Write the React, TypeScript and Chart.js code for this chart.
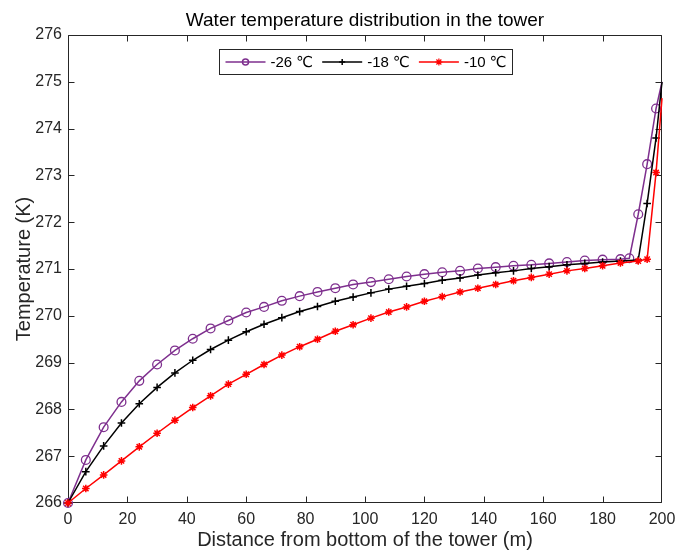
import { useEffect, useRef } from "react";
import { Chart, registerables } from "chart.js";

Chart.register(...registerables);

const titleText = "Water temperature distribution in the tower";
const xAxisLabel = "Distance from bottom of the tower (m)";
const yAxisLabel = "Temperature (K)";
const seriesNames = ["-26 ℃", "-18 ℃", "-10 ℃"];
const seriesColors = ["#7E2F8E", "#000000", "#FF0000"];
const seriesMarkers = ["circle", "cross", "star"];

const xTicks = [0, 20, 40, 60, 80, 100, 120, 140, 160, 180, 200];
const yTicks = [266, 267, 268, 269, 270, 271, 272, 273, 274, 275, 276];

const xPurple = [0, 6, 12, 18, 24, 30, 36, 42, 48, 54, 60, 66, 72, 78, 84, 90, 96, 102, 108, 114, 120, 126, 132, 138, 144, 150, 156, 162, 168, 174, 180, 186, 189, 192, 195, 198, 200];
const yPurple = [266.0, 266.92, 267.62, 268.16, 268.61, 268.96, 269.26, 269.51, 269.73, 269.9, 270.07, 270.19, 270.32, 270.42, 270.51, 270.59, 270.67, 270.72, 270.78, 270.84, 270.89, 270.93, 270.96, 271.01, 271.04, 271.07, 271.09, 271.12, 271.15, 271.18, 271.2, 271.21, 271.23, 272.17, 273.24, 274.43, 275.0];

const xBlack = [0, 6, 12, 18, 24, 30, 36, 42, 48, 54, 60, 66, 72, 78, 84, 90, 96, 102, 108, 114, 120, 126, 132, 138, 144, 150, 156, 162, 168, 174, 180, 186, 192, 195, 198, 200];
const yBlack = [266.0, 266.67, 267.22, 267.71, 268.12, 268.47, 268.78, 269.05, 269.28, 269.48, 269.66, 269.82, 269.96, 270.09, 270.2, 270.31, 270.4, 270.49, 270.57, 270.63, 270.69, 270.76, 270.81, 270.87, 270.92, 270.96, 271.01, 271.05, 271.09, 271.12, 271.15, 271.17, 271.19, 272.4, 273.8, 275.0];

const xRed = [0, 6, 12, 18, 24, 30, 36, 42, 48, 54, 60, 66, 72, 78, 84, 90, 96, 102, 108, 114, 120, 126, 132, 138, 144, 150, 156, 162, 168, 174, 180, 186, 192, 195, 198, 200];
const yRed = [266.0, 266.31, 266.6, 266.9, 267.2, 267.49, 267.77, 268.04, 268.29, 268.54, 268.75, 268.96, 269.16, 269.34, 269.5, 269.67, 269.81, 269.95, 270.08, 270.19, 270.31, 270.41, 270.51, 270.59, 270.67, 270.75, 270.82, 270.89, 270.96, 271.01, 271.07, 271.13, 271.17, 271.21, 273.06, 274.65];

const FONT = "'Liberation Sans', Arial, 'DejaVu Sans', sans-serif";
const AXIS_COLOR = "#262626";

function drawMarker(ctx: CanvasRenderingContext2D, style: string, x: number, y: number, r: number, color: string, lw: number) {
  ctx.save();
  ctx.strokeStyle = color;
  ctx.lineWidth = lw;
  ctx.beginPath();
  if (style === "circle") {
    ctx.arc(x, y, r, 0, Math.PI * 2);
  } else if (style === "cross") {
    ctx.moveTo(x - r, y); ctx.lineTo(x + r, y);
    ctx.moveTo(x, y - r); ctx.lineTo(x, y + r);
  } else {
    ctx.moveTo(x - r, y); ctx.lineTo(x + r, y);
    ctx.moveTo(x, y - r); ctx.lineTo(x, y + r);
    const d = r * Math.SQRT1_2;
    ctx.moveTo(x - d, y - d); ctx.lineTo(x + d, y + d);
    ctx.moveTo(x - d, y + d); ctx.lineTo(x + d, y - d);
  }
  ctx.stroke();
  ctx.restore();
}

const framePlugin = {
  id: "matlabFrame",
  beforeDatasetsDraw(chart: any) {
    const { ctx, chartArea: a, scales } = chart;
    ctx.save();
    ctx.strokeStyle = AXIS_COLOR;
    ctx.lineWidth = 1;
    const L = Math.round(a.left) + 0.5, R = Math.round(a.right) - 0.5;
    const T = Math.round(a.top) + 0.5, B = Math.round(a.bottom) - 0.5;
    ctx.beginPath();
    ctx.rect(L, T, R - L, B - T);
    const tl = 6;
    const clamp = (v: number, lo: number, hi: number) => Math.min(hi, Math.max(lo, v));
    xTicks.forEach((v) => {
      const px = clamp(Math.round(scales.x.getPixelForValue(v)) + 0.5, L, R);
      ctx.moveTo(px, B); ctx.lineTo(px, B - tl);
      ctx.moveTo(px, T); ctx.lineTo(px, T + tl);
    });
    yTicks.forEach((v) => {
      const py = clamp(Math.round(scales.y.getPixelForValue(v)) + 0.5, T, B);
      ctx.moveTo(L, py); ctx.lineTo(L + tl, py);
      ctx.moveTo(R, py); ctx.lineTo(R - tl, py);
    });
    ctx.stroke();
    ctx.restore();
  },
  afterDraw(chart: any) {
    const { ctx, chartArea: a } = chart;
    ctx.save();
    // title
    ctx.fillStyle = "#000000";
    ctx.font = `19px ${FONT}`;
    ctx.textAlign = "center";
    ctx.textBaseline = "middle";
    ctx.fillText(titleText, (a.left + a.right) / 2, 21);
    // legend
    ctx.font = `15px ${FONT}`;
    const lineLen = 40, padL = 6, gapText = 5, gapItem = 9, padR = 6, h = 25;
    const widths = seriesNames.map((n) => ctx.measureText(n).width);
    let total = padL + padR + gapItem * (seriesNames.length - 1);
    widths.forEach((w) => (total += lineLen + gapText + w));
    const cx = (a.left + a.right) / 2 + 1;
    const left = Math.round(cx - total / 2) + 0.5;
    const top = Math.round(a.top + 14) + 0.5;
    ctx.fillStyle = "#ffffff";
    ctx.fillRect(left, top, total, h);
    ctx.strokeStyle = AXIS_COLOR;
    ctx.lineWidth = 1;
    ctx.strokeRect(left, top, Math.round(total), h);
    let x = left + padL;
    const cy = top + h / 2;
    seriesNames.forEach((n, i) => {
      ctx.strokeStyle = seriesColors[i];
      ctx.lineWidth = 1.5;
      ctx.beginPath();
      ctx.moveTo(x, cy); ctx.lineTo(x + lineLen, cy);
      ctx.stroke();
      drawMarker(ctx, seriesMarkers[i], x + lineLen / 2, cy, i === 2 ? 3.5 : 3, seriesColors[i], i === 2 ? 1.2 : 1.5);
      x += lineLen + gapText;
      ctx.fillStyle = "#000000";
      ctx.textAlign = "left";
      ctx.textBaseline = "middle";
      ctx.fillText(n, x, cy + 1);
      x += widths[i] + gapItem;
    });
    ctx.restore();
  },
};

function toPoints(xs: number[], ys: number[]) {
  return xs.map((x, i) => ({ x, y: ys[i] }));
}

export default function App() {
  const ref = useRef<HTMLCanvasElement | null>(null);
  useEffect(() => {
    if (!ref.current) return;
    const lastHidden = (n: number, r: number) => (c: any) => (c.dataIndex === n - 1 ? 0 : r);
    const chart = new Chart(ref.current, {
      type: "line",
      data: {
        datasets: [
          {
            label: seriesNames[0],
            data: toPoints(xPurple, yPurple),
            borderColor: seriesColors[0],
            backgroundColor: "rgba(0,0,0,0)",
            borderWidth: 1.5,
            pointStyle: "circle",
            pointRadius: lastHidden(xPurple.length, 4.4),
            pointBorderWidth: 1.3,
            pointBorderColor: seriesColors[0],
            pointBackgroundColor: "rgba(0,0,0,0)",
            tension: 0,
            clip: false as any,
            order: 3,
          },
          {
            label: seriesNames[1],
            data: toPoints(xBlack, yBlack),
            borderColor: seriesColors[1],
            backgroundColor: "rgba(0,0,0,0)",
            borderWidth: 1.5,
            pointStyle: "cross",
            pointRadius: lastHidden(xBlack.length, 3.8),
            pointBorderWidth: 1.5,
            pointBorderColor: seriesColors[1],
            tension: 0,
            clip: false as any,
            order: 2,
          },
          {
            label: seriesNames[2],
            data: toPoints(xRed, yRed),
            borderColor: seriesColors[2],
            backgroundColor: "rgba(0,0,0,0)",
            borderWidth: 1.5,
            pointStyle: "star",
            pointRadius: lastHidden(xRed.length, 3.8),
            pointBorderWidth: 1.5,
            pointBorderColor: seriesColors[2],
            tension: 0,
            clip: false as any,
            order: 1,
          },
        ],
      },
      options: {
        animation: false,
        responsive: false,
        devicePixelRatio: 1,
        layout: { padding: { top: 35, right: 26, left: 0, bottom: 0 } },
        plugins: {
          legend: { display: false },
          title: { display: false },
          tooltip: { enabled: false },
        },
        events: [],
        scales: {
          x: {
            type: "linear",
            min: 0,
            max: 200,
            afterFit: (s: any) => { s.height = 47; },
            afterBuildTicks: (s: any) => { s.ticks = xTicks.map((v) => ({ value: v })); },
            grid: { display: false, drawTicks: false },
            border: { display: false },
            ticks: { color: AXIS_COLOR, font: { family: FONT, size: 16 }, padding: 7, maxRotation: 0, autoSkip: false },
            title: { display: true, text: xAxisLabel, color: AXIS_COLOR, font: { family: FONT, size: 20, lineHeight: 1 }, padding: { top: 0, bottom: 0 } },
          },
          y: {
            type: "linear",
            min: 266,
            max: 276,
            afterFit: (s: any) => { s.width = 68; },
            afterBuildTicks: (s: any) => { s.ticks = yTicks.map((v) => ({ value: v })); },
            grid: { display: false, drawTicks: false },
            border: { display: false },
            ticks: { color: AXIS_COLOR, font: { family: FONT, size: 16 }, padding: 6, autoSkip: false },
            title: { display: true, text: yAxisLabel, color: AXIS_COLOR, font: { family: FONT, size: 20, lineHeight: 1 }, padding: { top: 14, bottom: 0 } },
          },
        },
      },
      plugins: [framePlugin as any],
    });
    return () => chart.destroy();
  }, []);
  return (
    <div style={{ position: "absolute", left: 0, top: 0, width: 688, height: 550, background: "#ffffff" }}>
      <canvas ref={ref} width={688} height={550} style={{ width: 688, height: 550 }} />
    </div>
  );
}
